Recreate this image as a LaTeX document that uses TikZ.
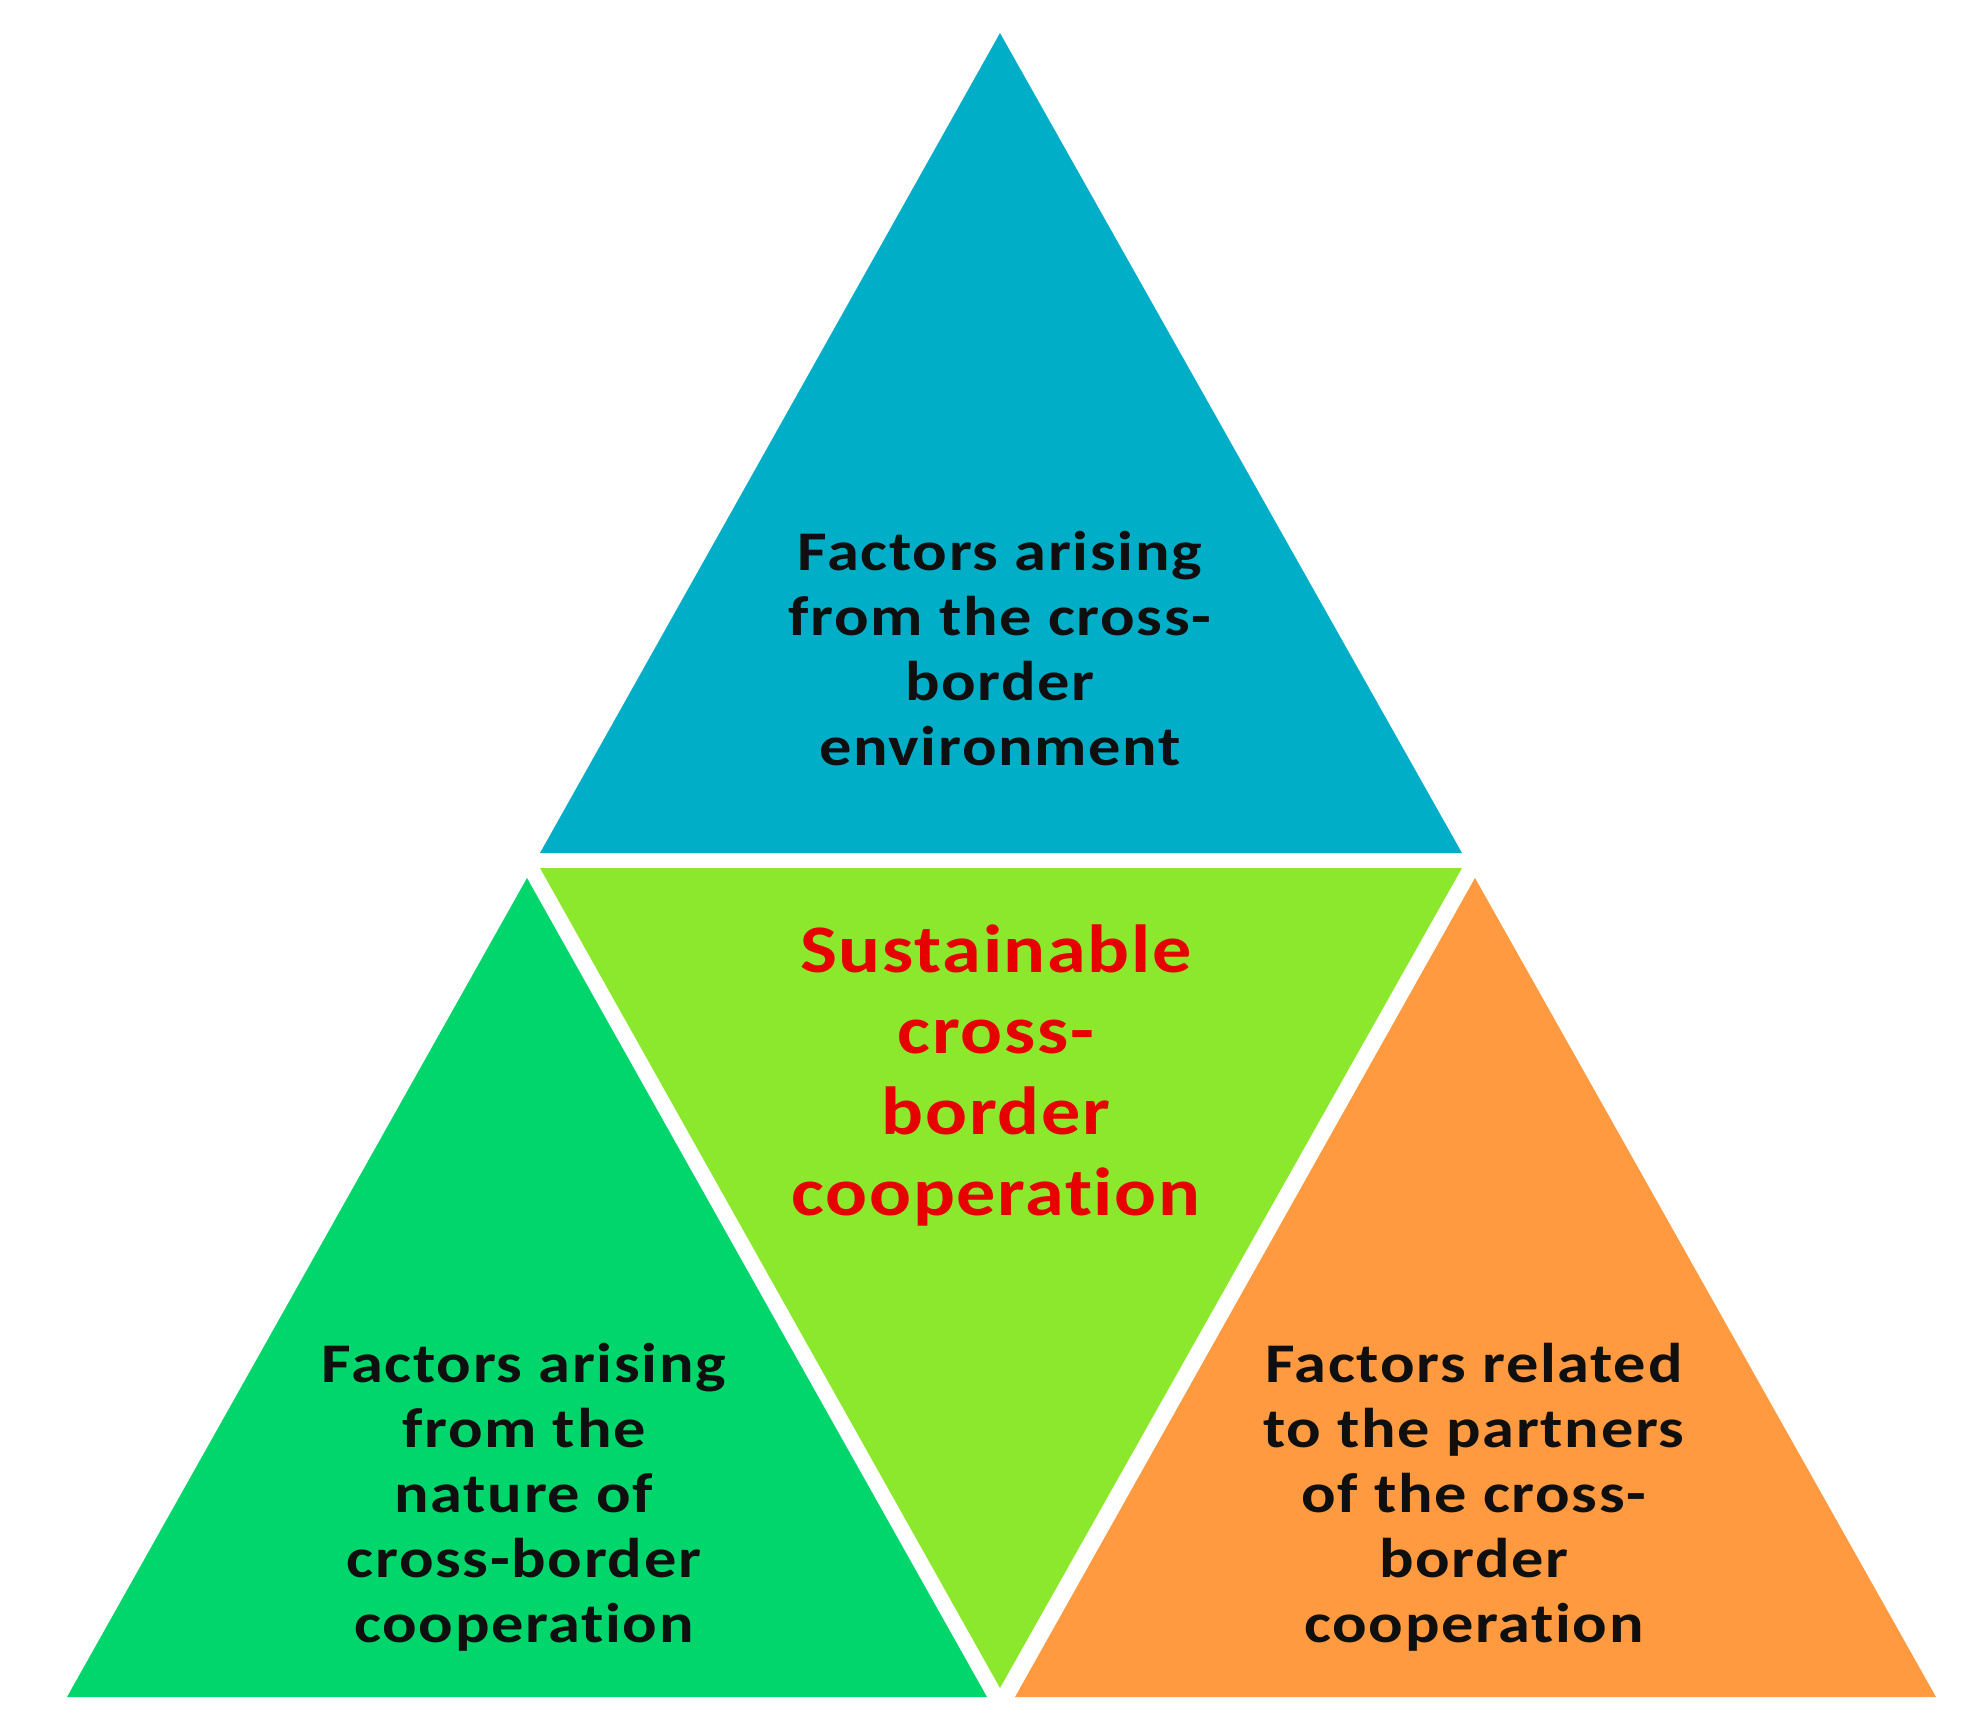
\documentclass[tikz,border=0pt]{standalone}
\usepackage{fontspec}
\setmainfont{Carlito}
\newfontfamily\figfont{Carlito}[LetterSpace=3,FakeStretch=1.15,Ligatures=NoCommon]
\newfontfamily\redfont{Carlito}[LetterSpace=2.5,FakeStretch=1.15,Ligatures=NoCommon]
\definecolor{triblue}{RGB}{0,174,200}
\definecolor{trigreen}{RGB}{0,214,108}
\definecolor{trilime}{RGB}{140,232,44}
\definecolor{triorange}{RGB}{255,154,64}
\definecolor{txtred}{RGB}{230,0,0}
\definecolor{txtblack}{RGB}{15,15,15}
\tikzset{
  blacktext/.style={anchor=base, inner sep=0pt, text=txtblack,
    font=\figfont\bfseries\fontsize{56}{65}\selectfont},
  redtext/.style={anchor=base, inner sep=0pt, text=txtred,
    font=\redfont\bfseries\fontsize{68}{81}\selectfont},
}
\begin{document}
\begin{tikzpicture}[x=1pt,y=-1pt]
\useasboundingbox (0,0) rectangle (1968,1731);
% vertices
\coordinate (bTop) at (1000,33);
\coordinate (bL) at (540,853);
\coordinate (bR) at (1462,853);
\coordinate (cL) at (540,868);
\coordinate (cR) at (1462,868);
\coordinate (cB) at (1000,1688);
\coordinate (gTop) at (527,878);
\coordinate (gL) at (67,1697);
\coordinate (gR) at (987,1697);
\coordinate (oTop) at (1475,878);
\coordinate (oL) at (1015,1697);
\coordinate (oR) at (1936,1697);
% triangles
\fill[triblue] (bTop) -- (bL) -- (bR) -- cycle;
\fill[trilime] (cL) -- (cR) -- (cB) -- cycle;
\fill[trigreen] (gTop) -- (gL) -- (gR) -- cycle;
\fill[triorange] (oTop) -- (oL) -- (oR) -- cycle;
% texts
\node[blacktext] (tblue) at (1000,570) {\begin{tabular}[t]{@{}c@{}}Factors arising\\from the cross-\\border\\environment\end{tabular}};
\node[redtext] (tcenter) at (996,972) {\begin{tabular}[t]{@{}c@{}}Sustainable\\cross-\\border\\cooperation\end{tabular}};
\node[blacktext] (tgreen) at (524,1382) {\begin{tabular}[t]{@{}c@{}}Factors arising\\from the\\nature of\\cross-border\\cooperation\end{tabular}};
\node[blacktext] (torange) at (1474,1382) {\begin{tabular}[t]{@{}c@{}}Factors related\\to the partners\\of the cross-\\border\\cooperation\end{tabular}};
\end{tikzpicture}
\end{document}
